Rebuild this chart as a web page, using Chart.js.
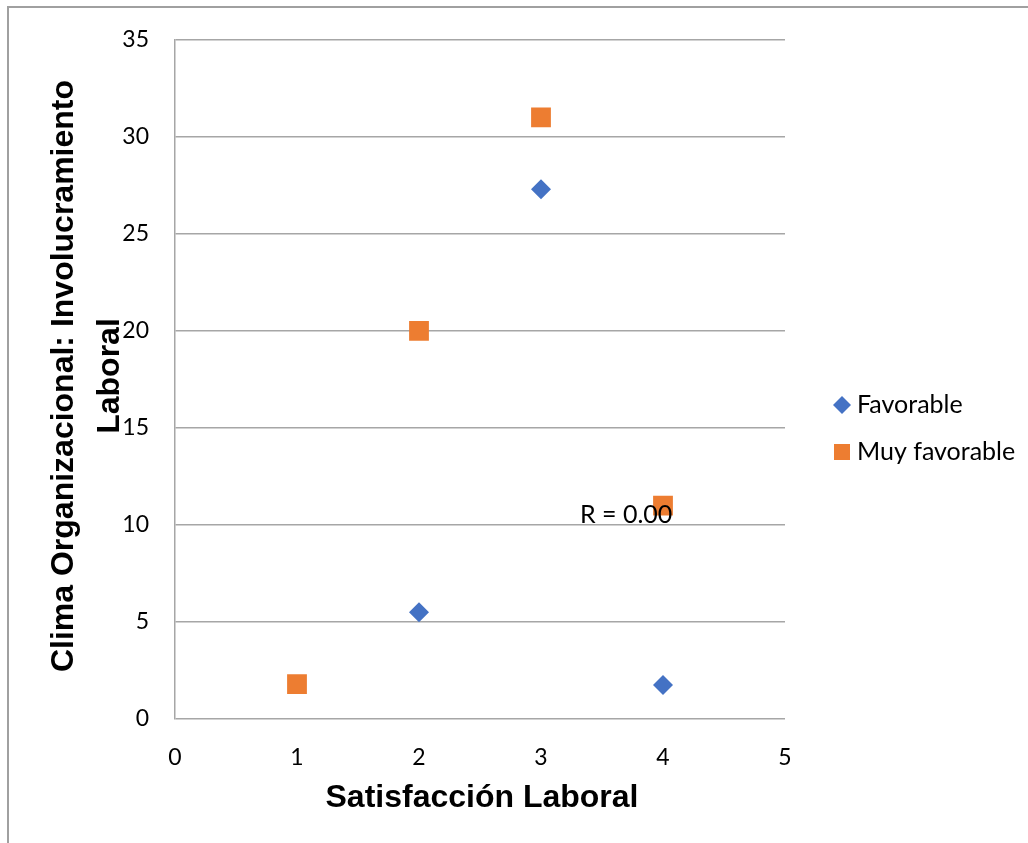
<!DOCTYPE html>
<html>
<head>
<meta charset="utf-8">
<script src="https://cdn.jsdelivr.net/npm/chart.js@4/dist/chart.umd.min.js"></script>
<style>
  html, body { margin: 0; padding: 0; background: #fff; }
  #wrap { width: 1028px; height: 843px; }
</style>
</head>
<body>
<div id="wrap"><canvas id="chart" width="1028" height="843"></canvas></div>
<script>
// values
const favorableX = [2, 3, 4];
const favorableY = [5.5, 27.3, 1.75];
const muyFavorableX = [1, 2, 3, 4];
const muyFavorableY = [1.8, 20, 31, 11];
const seriesNames = ["Favorable", "Muy favorable"];
const xTitle = "Satisfacción Laboral";
const yTitle = ["Clima Organizacional: Involucramiento", "Laboral"];
const rLabel = "R = 0.00";

const BLUE = "#4472C4";
const ORANGE = "#ED7D31";
const GRID = "#a6a6a6";
const tickFont = { family: "Lato", size: 23 };

const toPoints = (xs, ys) => xs.map((x, i) => ({ x, y: ys[i] }));

// frame, axis titles, R label and legend
const decorations = {
    id: "decorations",
    afterDatasetsDraw(chart) {
        const ctx = chart.ctx;
        const area = chart.chartArea;
        ctx.save();

        // outer frame (top + left only)
        ctx.strokeStyle = "#a0a0a0";
        ctx.lineWidth = 2;
        ctx.beginPath();
        ctx.moveTo(8, 843);
        ctx.lineTo(8, 7);
        ctx.lineTo(1028, 7);
        ctx.stroke();

        ctx.fillStyle = "#000";
        ctx.textAlign = "center";
        ctx.textBaseline = "middle";

        // x title
        ctx.font = "bold 32px 'Liberation Sans'";
        ctx.fillText(xTitle, (area.left + area.right) / 2 + 2, 798);

        // y title, rotated
        ctx.save();
        ctx.translate(64, 376);
        ctx.rotate(-Math.PI / 2);
        ctx.font = "bold 32px 'Liberation Sans'";
        ctx.fillText(yTitle[0], 0, 0);
        ctx.fillText(yTitle[1], 0, 46);
        ctx.restore();

        // R label over the data
        ctx.textAlign = "left";
        ctx.font = "25px Lato";
        ctx.fillText(rLabel, 580, 515);

        // legend
        const items = [
            { label: seriesNames[0], color: BLUE, y: 405, shape: "diamond" },
            { label: seriesNames[1], color: ORANGE, y: 452, shape: "square" },
        ];
        ctx.font = "25px Lato";
        items.forEach((it) => {
            ctx.fillStyle = it.color;
            ctx.beginPath();
            if (it.shape === "diamond") {
                ctx.moveTo(833, it.y);
                ctx.lineTo(842, it.y - 9);
                ctx.lineTo(851, it.y);
                ctx.lineTo(842, it.y + 9);
                ctx.closePath();
            } else {
                ctx.rect(834, it.y - 8, 16, 16);
            }
            ctx.fill();
            ctx.fillStyle = "#000";
            ctx.fillText(it.label, 857, it.y);
        });

        ctx.restore();
    },
};

new Chart(document.getElementById("chart"), {
    type: "scatter",
    data: {
        datasets: [
            {
                label: seriesNames[0],
                data: toPoints(favorableX, favorableY),
                pointStyle: "rectRot",
                pointRadius: 10,
                pointHoverRadius: 10,
                backgroundColor: BLUE,
                borderColor: BLUE,
                borderWidth: 0,
            },
            {
                label: seriesNames[1],
                data: toPoints(muyFavorableX, muyFavorableY),
                pointStyle: "rect",
                pointRadius: 14,
                pointHoverRadius: 14,
                backgroundColor: ORANGE,
                borderColor: ORANGE,
                borderWidth: 0,
            },
        ],
    },
    options: {
        responsive: false,
        animation: false,
        events: [],
        layout: {
            padding: { top: 37, right: 243, bottom: 0, left: 0 },
        },
        plugins: {
            legend: { display: false },
            tooltip: { enabled: false },
        },
        scales: {
            x: {
                type: "linear",
                min: 0,
                max: 5,
                afterFit: (scale) => { scale.height = 124; },
                ticks: { stepSize: 1, color: "#000", font: tickFont, padding: 25 },
                grid: { display: false, drawTicks: false },
                border: { display: false },
            },
            y: {
                min: 0,
                max: 35,
                afterFit: (scale) => { scale.width = 175; },
                ticks: { stepSize: 5, color: "#000", font: tickFont, padding: 26 },
                grid: { color: GRID, lineWidth: 1.5, drawTicks: false },
                border: { display: true, color: GRID, width: 1.5 },
            },
        },
    },
    plugins: [decorations],
});
</script>
</body>
</html>
